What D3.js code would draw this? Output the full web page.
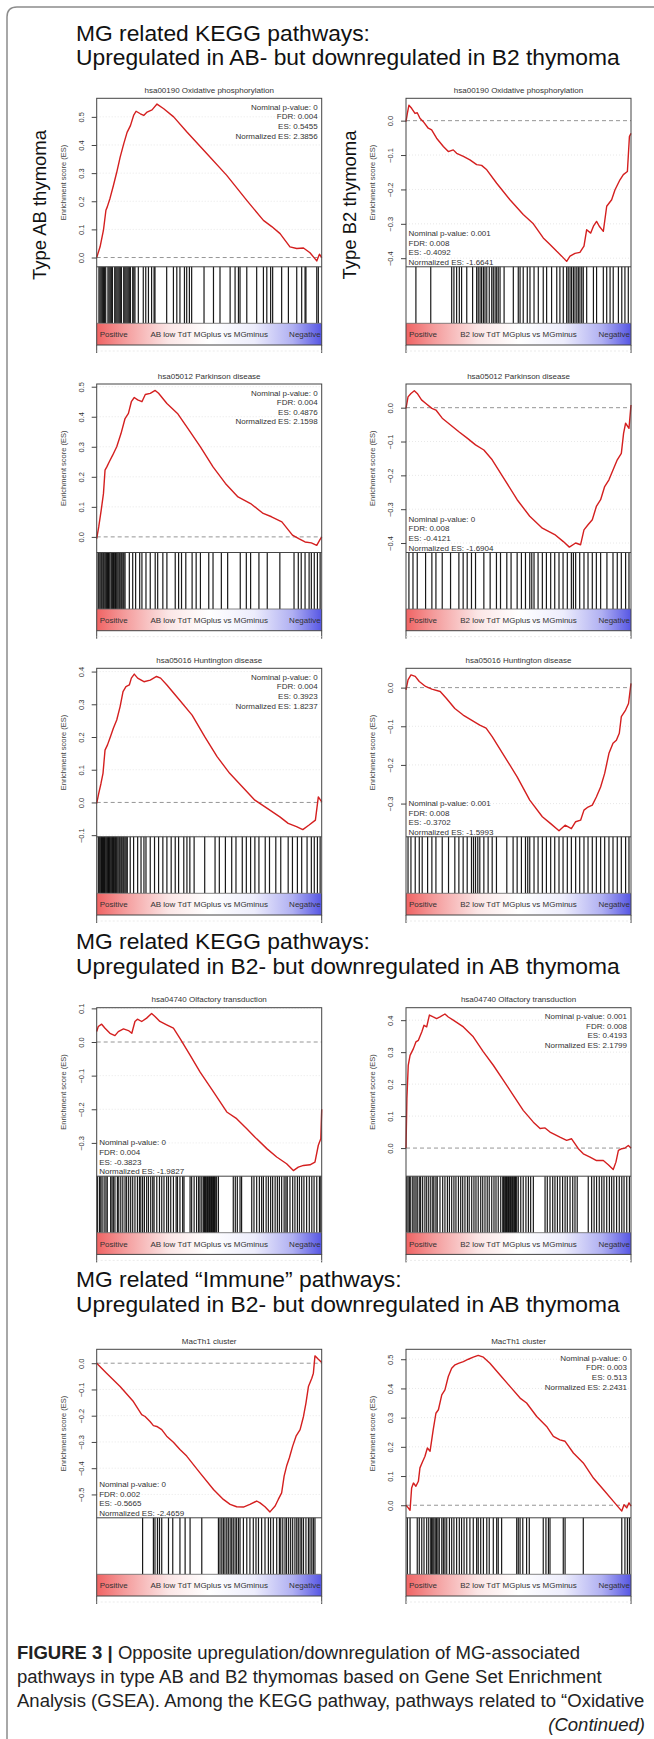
<!DOCTYPE html>
<html>
<head>
<meta charset="utf-8">
<script src="https://cdn.jsdelivr.net/npm/d3@7"></script>
<style>
body { margin: 0; background: #fff; }
svg { display: block; font-family: "Liberation Sans", Arial, Helvetica, sans-serif; }
</style>
</head>
<body>
<svg id="fig" width="654" height="1739"></svg>
<script>
// ---- data: running enrichment score, [rank % of list, ES] ----
var oxAB_curve = [[0,0],[1.5,0.038],[3,0.097],[4.1,0.168],[4.7,0.18],[5.9,0.21],[7.4,0.255],[8.9,0.303],[10.4,0.356],[12,0.404],[13.5,0.445],[15,0.469],[16.4,0.505],[17.5,0.52],[19.4,0.511],[20.9,0.505],[22.4,0.517],[24.6,0.525],[26.8,0.5455],[29.8,0.529],[34.2,0.5],[40.1,0.446],[49,0.369],[57.8,0.292],[66.7,0.203],[74.1,0.132],[77.8,0.11],[81.5,0.085],[85.9,0.038],[88.9,0.032],[91.9,0.034],[94.8,0.017],[97.8,-0.012],[99,0.012],[100,0]]
var oxB2_curve = [[0,-0.003],[0.6,0.021],[1.3,0.045],[2.5,0.036],[4,0.021],[5,0.023],[6.2,0.007],[7.7,-0.003],[9.9,-0.022],[11.4,-0.027],[13.6,-0.051],[16.6,-0.075],[18.8,-0.09],[21,-0.085],[22.5,-0.095],[25.5,-0.104],[28.4,-0.114],[31.4,-0.128],[33.6,-0.13],[35.9,-0.143],[40.3,-0.182],[46.2,-0.23],[52.1,-0.273],[56.6,-0.3],[61,-0.341],[64,-0.36],[67,-0.38],[69.2,-0.394],[71.4,-0.4092],[72.9,-0.394],[75.1,-0.386],[77.3,-0.383],[79.1,-0.365],[80.3,-0.317],[82.1,-0.327],[83.3,-0.307],[84.7,-0.293],[85.9,-0.307],[87.7,-0.322],[89.2,-0.249],[91.4,-0.23],[92.9,-0.201],[95.1,-0.172],[96.6,-0.157],[98.4,-0.148],[99.3,-0.046],[100,-0.037]]
var pdAB_curve = [[0,-0.006],[0.9,0.033],[2,0.089],[3,0.144],[3.7,0.222],[4.5,0.233],[5.6,0.25],[7.1,0.272],[8.9,0.3],[10.8,0.344],[12.6,0.394],[14.1,0.411],[15.4,0.45],[16.7,0.464],[18.2,0.456],[20.1,0.45],[21.6,0.474],[23.8,0.478],[26,0.4876],[27.5,0.478],[31.2,0.444],[35.9,0.411],[40.5,0.361],[46.1,0.3],[51.7,0.233],[57.2,0.178],[62.8,0.133],[68.4,0.111],[74,0.078],[77.7,0.067],[82.3,0.05],[87,0.006],[89.8,-0.006],[92.6,-0.017],[95.4,-0.02],[97.8,-0.028],[99.1,-0.011],[100,0]]
var pdB2_curve = [[0,-0.002],[0.9,0.032],[2.2,0.042],[3.7,0.05],[5,0.042],[6.9,0.023],[8.7,0.013],[11.5,-0.002],[13.3,-0.007],[16.1,-0.031],[19.8,-0.051],[23.5,-0.071],[27.2,-0.09],[30.9,-0.11],[34.6,-0.125],[38.3,-0.154],[43.9,-0.213],[49.4,-0.272],[55,-0.321],[60.6,-0.356],[66.1,-0.375],[69.8,-0.395],[72.6,-0.4121],[75.4,-0.4],[77.6,-0.405],[79.1,-0.361],[80.9,-0.346],[82.8,-0.331],[84.6,-0.292],[86.5,-0.272],[88.3,-0.233],[90.2,-0.213],[92,-0.184],[93.9,-0.154],[95.7,-0.135],[96.7,-0.076],[97.6,-0.046],[99.1,-0.061],[100,0.008]]
var hdAB_curve = [[0,-0.003],[0.9,0.028],[1.9,0.058],[2.8,0.089],[3.7,0.16],[4.8,0.176],[6.1,0.201],[7.4,0.227],[8.9,0.252],[10.4,0.293],[11.7,0.339],[13,0.354],[14.5,0.359],[15.4,0.38],[16.7,0.3923],[18.2,0.38],[21,0.369],[23.8,0.374],[26.6,0.385],[28.4,0.38],[31.2,0.359],[36.8,0.313],[42.4,0.267],[48,0.201],[53.5,0.14],[59.1,0.089],[64.7,0.048],[70.3,0.007],[75.8,-0.018],[81.4,-0.044],[85.1,-0.064],[88.8,-0.074],[91.6,-0.083],[94.4,-0.069],[97.2,-0.054],[98.5,0.017],[100,0.002]]
var hdB2_curve = [[0,-0.006],[0.9,0.02],[2.2,0.033],[4.1,0.029],[5.9,0.016],[8.7,0.003],[11.5,-0.004],[15.2,-0.01],[18,-0.028],[21.7,-0.054],[25.4,-0.071],[29.1,-0.084],[32.8,-0.097],[35.6,-0.105],[38.3,-0.127],[43.9,-0.179],[49.4,-0.231],[55,-0.291],[60.6,-0.334],[64.3,-0.352],[68,-0.3702],[70.7,-0.356],[73.5,-0.365],[75.4,-0.347],[77.6,-0.343],[79.1,-0.317],[80.9,-0.309],[82.8,-0.304],[84.6,-0.283],[86.5,-0.257],[88.3,-0.222],[90.2,-0.17],[92,-0.144],[93.5,-0.136],[94.8,-0.118],[95.7,-0.075],[97.6,-0.058],[98.9,-0.041],[100,0.011]]
var olAB_curve = [[0,0.031],[0.7,0.046],[2.2,0.053],[3.7,0.041],[5.9,0.026],[8.1,0.019],[9.6,0.031],[11.9,0.039],[14.1,0.034],[15.6,0.026],[17,0.061],[18.1,0.068],[20,0.061],[22.2,0.071],[24.4,0.085],[25.9,0.076],[28.1,0.061],[31.1,0.051],[34.1,0.041],[37,0.011],[41.5,-0.039],[45.9,-0.089],[51.9,-0.148],[57.8,-0.208],[62.2,-0.228],[66.7,-0.258],[71.1,-0.288],[75.6,-0.317],[80,-0.342],[84.4,-0.362],[87.4,-0.3823],[89.6,-0.372],[91.9,-0.367],[94.8,-0.365],[97,-0.357],[98.5,-0.307],[99.6,-0.288],[100,-0.2]]
var olB2_curve = [[0,0],[0.4,0.155],[1,0.259],[1.8,0.29],[3.3,0.311],[4.4,0.332],[5.5,0.337],[7,0.363],[8,0.384],[9.2,0.379],[10.4,0.416],[12.1,0.41],[13.6,0.405],[15.1,0.41],[17.3,0.4193],[18.8,0.41],[21,0.4],[25.5,0.379],[29.9,0.348],[34.4,0.301],[38.8,0.259],[43.3,0.212],[47.7,0.165],[52.1,0.118],[56.6,0.081],[59.6,0.061],[61.8,0.063],[64,0.05],[68.4,0.034],[71.4,0.024],[73.6,0.029],[76.6,-0.002],[78.8,-0.018],[81.8,-0.028],[84.7,-0.039],[87.7,-0.039],[89.9,-0.052],[92.1,-0.067],[93.3,-0.044],[94.4,-0.007],[95.9,-0.002],[97.3,0],[98.8,0.008],[100,0]]
var mtAB_curve = [[0,0],[4.4,-0.038],[10.4,-0.089],[16.3,-0.146],[20,-0.196],[21.5,-0.203],[23.7,-0.222],[25.2,-0.238],[26.7,-0.241],[28.9,-0.253],[31.1,-0.278],[34.1,-0.301],[37,-0.329],[40,-0.354],[45.9,-0.418],[51.9,-0.481],[56.3,-0.519],[59.3,-0.538],[62.2,-0.547],[65.2,-0.548],[68.1,-0.538],[71.1,-0.525],[72.6,-0.532],[74.8,-0.547],[77,-0.5665],[79.3,-0.544],[80.7,-0.519],[82.2,-0.494],[83.3,-0.43],[84.4,-0.392],[85.6,-0.361],[87.1,-0.316],[88.6,-0.278],[90.4,-0.253],[91.9,-0.203],[93,-0.152],[94.1,-0.089],[95.6,-0.057],[96.3,-0.038],[97,0.028],[98.5,0.015],[100,0.003]]
var mtB2_curve = [[0,0],[1,-0.009],[1.8,-0.017],[2.5,0.059],[3.3,0.076],[4.4,0.065],[5.5,0.082],[6.2,0.128],[7.4,0.15],[8.4,0.167],[9.5,0.196],[10.7,0.185],[12.1,0.259],[13.3,0.315],[14.4,0.327],[15.9,0.378],[17.3,0.395],[18.8,0.441],[20.3,0.469],[21.8,0.481],[23.3,0.486],[25.5,0.492],[27.7,0.5],[29.9,0.507],[32.1,0.513],[34.4,0.507],[37.3,0.486],[41.8,0.446],[46.2,0.407],[50.7,0.367],[53.6,0.35],[58.1,0.304],[62.5,0.27],[65.5,0.236],[68.4,0.224],[70.7,0.219],[74.4,0.179],[78.8,0.145],[83.3,0.093],[87.7,0.054],[92.1,0.014],[95.9,-0.02],[96.9,0.002],[98.1,-0.009],[99.1,0.008],[100,-0.003]]

// ---- data: gene set hits, rank % of list ----
var oxAB_hits = [1,1.5,2,2.5,3,3.5,4,5,5.5,6,6.5,7,8,8.5,9,9.5,10,10.5,11,12,12.5,13,13.5,14,14.5,15,16,16.5,17,18.5,20.7,21.8,23,24.4,25.5,25.9,31.1,34.1,35.6,37,39,40,41.2,42.2,47.7,51.9,54.8,59.3,61.5,63,63.7,66.7,71.1,74.1,75.6,77.3,78.2,82.2,85.2,88.9,91.1,92.6,93,97.8,98.5]
var oxB2_hits = [4.4,11,20.3,21.3,22.5,23.7,24.7,27,29.6,31.4,32.1,32.9,33.6,34.4,35.1,35.9,37,38.1,38.8,39.6,40.3,41,41.8,43.6,47.7,49.9,50.7,52.1,53.9,55.1,56.9,58.8,61,62.5,64.7,67,68.4,69.9,71.4,72.1,72.9,73.6,74.4,75.1,75.9,76.6,77.3,78.1,78.8,80.3,83.3,84.7,87.7,89.2,90.7,92.1,94.4,95.9,97.3,98.8]
var pdAB_hits = [0.6,1,1.5,2,2.4,2.9,3.3,3.8,4.3,4.8,5.2,5.6,6.3,6.7,7.1,7.5,8,8.4,8.9,9.4,9.9,10.3,10.8,11.2,11.7,12.1,12.6,14.5,16,17.3,19.1,20.1,21.9,23.8,26,27.1,29.4,31.2,34.9,36.4,37.7,39.6,42.4,44.2,46.1,49.8,51.7,55.4,58.2,63.8,66.5,68.4,72.1,75.8,81.4,87.7,89.6,90.9,92.6,94.4,95.4,96.7,98.1,99.3]
var pdB2_hits = [1.3,3.1,5,8.7,11.5,13.3,16.1,19.8,23.5,25.4,27.2,29.1,30.9,34.6,37.4,40.2,42,44.8,46.7,49.4,51.3,53.1,55,55.9,56.9,58.7,60.6,62.4,64.3,66.1,68,69.8,71.7,73.5,74.4,75.4,77.2,79.1,80.9,82.8,84.6,86.5,89.3,92,93.9,95.7,97.6,99.1]
var hdAB_hits = [0.7,1.1,1.5,1.9,2.2,2.6,3,3.4,3.7,4.1,4.5,4.9,5.2,5.6,5.9,6.3,6.7,7.1,7.4,7.8,8.2,8.5,8.9,9.4,9.9,10.3,10.8,11.2,11.7,12.1,12.6,13.1,13.6,14.9,16.4,18.2,19.7,21,21.9,23.8,25.7,27.5,29.4,31.2,33.1,34.9,36.4,38.7,40.1,41.4,43.3,48,52.6,54.5,57.2,60,61.9,64.7,66.5,68.4,70.3,72.1,74.9,76.8,79.6,81.8,85.1,87,89.2,91.1,93.5,95.4,96.7,98.1,99.3]
var hdB2_hits = [0.9,2.2,4.1,5.9,7.2,9.6,11.5,13.3,16.1,18.9,21.7,23.5,25.4,27.2,29.1,30,30.9,31.9,32.8,34.6,36.5,38.3,40.2,44.8,47.6,49.4,51.3,53.1,54.1,55,56.9,58.7,60.6,62.4,64.3,66.1,68,69.8,71.7,73.5,75.4,77.2,79.1,80.9,82.8,84.6,86.5,88.3,90.2,92,93.9,95.7,97.6,99.1]
var olAB_hits = [0.3,1.2,1.8,2.4,3.3,4.1,4.7,6.2,6.8,7.4,8.1,9.2,9.8,10.7,11.6,12.6,13.3,14.2,15.1,16,17,18.1,19,19.6,20.4,21.2,22.2,23,24,24.9,25.5,26.7,27.9,28.9,29.9,31.1,31.9,32.9,34.1,35.3,35.9,37,38.2,38.8,41.5,42.2,43.3,44.4,45.3,45.9,46.7,47.4,47.9,48.3,48.7,49.2,49.6,50.1,50.5,51,51.4,51.9,52.3,52.7,53.3,54.1,60.7,61.6,62.5,63.7,64.4,68.9,69.9,71.1,72.3,73.3,74.1,75.3,76.3,77.3,78.2,79.3,80.3,81.2,82.2,83.3,84.1,84.7,85.9,87.1,88.1,89.2,90.1,91.1,92.1,93.3,94.5,95.6,96.6,97.8,99,99.6]
var olB2_hits = [0.3,0.9,1.5,2.1,3,3.6,4.4,5,5.9,6.5,7.4,8.4,9.2,10.1,11,11.9,12.4,13.3,13.9,15.1,16.3,17.3,18.4,19.3,20.3,21.3,22.2,23.3,24.3,25.2,26.2,27.3,28.1,29.2,30.2,31.1,32.1,33.2,34.1,35.1,36.1,37,38.1,39.1,40,41,42.1,43,43.4,43.9,44.3,44.7,45.2,45.6,46.1,46.5,47,47.4,47.9,48.3,48.7,49.2,49.9,51,52.1,53.3,54.4,55.4,56.6,61.8,62.8,64,65.2,66.2,67.3,68.4,69.6,70.7,71.7,72.9,74.1,75.1,76.1,81,82.5,83.6,84.7,85.9,87,88,89.2,90.4,91.4,92.4,93.6,94.8,95.9,96.9,98.1,99.3]
var mtAB_hits = [20.4,25.2,25.9,27,27.9,28.9,31.9,33.8,37,39.3,41.5,46.7,54.1,54.8,55.6,56.3,57,57.8,58.5,59.3,60,60.7,61.5,62.2,63,63.7,65.2,66.7,68.1,69.6,70.8,71.9,73.3,74.8,76.3,77.3,78.5,80,81.2,81.8,82.7,83.7,84.4,85.3,86.2,87.1,88.1,88.9,89.6,90.4,91.1,91.9,93,94.1,94.8,95.6,96.3,97]
var mtB2_hits = [0.6,1.8,5,5.9,7,8,9.2,10.1,11,11.4,11.9,12.4,13,13.6,14.2,14.8,15.9,16.6,17.3,18.1,19.3,20.3,21.3,22.5,23.7,24.7,25.8,27,28.4,29.9,31.4,32.1,33.2,34.4,35.9,37,38.8,40.3,41,42.5,49.2,49.9,50.7,51.9,53.6,54.8,61,62.2,63.3,64,69.9,70.7,78.8,95.9,97.3,98.4,99.3]

// ---- data: plot y limits ----
var oxAB_ylim = [-0.033, 0.566], oxB2_ylim = [-0.425, 0.065]
var pdAB_ylim = [-0.052, 0.509], pdB2_ylim = [-0.428, 0.07]
var hdAB_ylim = [-0.105, 0.41],  hdB2_ylim = [-0.386, 0.05]
var olAB_ylim = [-0.399, 0.102], olB2_ylim = [-0.088, 0.439]
var mtAB_ylim = [-0.589, 0.053], mtB2_ylim = [-0.043, 0.534]

// ---- data: statistics [nominal p, FDR, ES, NES] ----
var oxAB_stats = ['0', '0.004', '0.5455', '2.3856'],   oxB2_stats = ['0.001', '0.008', '-0.4092', '-1.6641']
var pdAB_stats = ['0', '0.004', '0.4876', '2.1598'],   pdB2_stats = ['0', '0.008', '-0.4121', '-1.6904']
var hdAB_stats = ['0', '0.004', '0.3923', '1.8237'],   hdB2_stats = ['0.001', '0.008', '-0.3702', '-1.5993']
var olAB_stats = ['0', '0.004', '-0.3823', '-1.9827'], olB2_stats = ['0.001', '0.008', '0.4193', '2.1799']
var mtAB_stats = ['0', '0.002', '-0.5665', '-2.4659'], mtB2_stats = ['0', '0.003', '0.513', '2.2431']

var setTitles = ['hsa00190 Oxidative phosphorylation', 'hsa05012 Parkinson disease',
                 'hsa05016 Huntington disease', 'hsa04740 Olfactory transduction', 'MacTh1 cluster']
var phenoLabels = ['AB low TdT MGplus vs MGminus', 'B2 low TdT MGplus vs MGminus']
var headings = [
    ['MG related KEGG pathways:', 'Upregulated in AB- but downregulated in B2 thymoma'],
    ['MG related KEGG pathways:', 'Upregulated in B2- but downregulated in AB thymoma'],
    ['MG related \u201cImmune\u201d pathways:', 'Upregulated in B2- but downregulated in AB thymoma']
]
var rowLabels = ['Type AB thymoma', 'Type B2 thymoma']
var captionLines = [
    'pathways in type AB and B2 thymomas based on Gene Set Enrichment',
    'Analysis (GSEA). Among the KEGG pathway, pathways related to \u201cOxidative'
]

// ---- layout ----
var rowTop = [98.3, 384, 668.3, 1007.7, 1349.3]
var colX = [96.7, 406]
var boxW = 225, esH = 168.5, hitsH = 56.5, gradH = 21.7, extH = 8
var headingY = [[41, 65], [949, 974], [1287, 1312]]

var panels = [
    { row:0, col:0, title:setTitles[0], curve:oxAB_curve, hits:oxAB_hits, ylim:oxAB_ylim, stats:oxAB_stats },
    { row:0, col:1, title:setTitles[0], curve:oxB2_curve, hits:oxB2_hits, ylim:oxB2_ylim, stats:oxB2_stats },
    { row:1, col:0, title:setTitles[1], curve:pdAB_curve, hits:pdAB_hits, ylim:pdAB_ylim, stats:pdAB_stats },
    { row:1, col:1, title:setTitles[1], curve:pdB2_curve, hits:pdB2_hits, ylim:pdB2_ylim, stats:pdB2_stats },
    { row:2, col:0, title:setTitles[2], curve:hdAB_curve, hits:hdAB_hits, ylim:hdAB_ylim, stats:hdAB_stats },
    { row:2, col:1, title:setTitles[2], curve:hdB2_curve, hits:hdB2_hits, ylim:hdB2_ylim, stats:hdB2_stats },
    { row:3, col:0, title:setTitles[3], curve:olAB_curve, hits:olAB_hits, ylim:olAB_ylim, stats:olAB_stats },
    { row:3, col:1, title:setTitles[3], curve:olB2_curve, hits:olB2_hits, ylim:olB2_ylim, stats:olB2_stats },
    { row:4, col:0, title:setTitles[4], curve:mtAB_curve, hits:mtAB_hits, ylim:mtAB_ylim, stats:mtAB_stats },
    { row:4, col:1, title:setTitles[4], curve:mtB2_curve, hits:mtB2_hits, ylim:mtB2_ylim, stats:mtB2_stats }
]

var svg = d3.select('#fig')

// phenotype gradient (red -> white -> blue)
var grad = svg.append('defs').append('linearGradient').attr('id', 'pheno')
var stops = [[0, '#f06464'], [0.12, '#f49a9a'], [0.32, '#fbe6e6'], [0.5, '#ffffff'],
             [0.7, '#ededfc'], [0.87, '#b0b0f2'], [1, '#5656e4']]
grad.selectAll('stop').data(stops).enter().append('stop')
    .attr('offset', function(d) { return d[0] })
    .attr('stop-color', function(d) { return d[1] })

// figure frame: left and top edges, rounded corner
svg.append('path').attr('d', 'M7,1739 V17 Q7,7 17,7 H654')
    .attr('fill', 'none').attr('stroke', '#8c8c8c').attr('stroke-width', 1.5)

function drawPanel(p) {
    var x0 = colX[p.col], top = rowTop[p.row]
    var esB = top + esH, hitB = esB + hitsH, grB = hitB + gradH
    var x = d3.scaleLinear().domain([0, 100]).range([x0, x0 + boxW])
    var y = d3.scaleLinear().domain(p.ylim).range([esB, top])
    var ticks = d3.range(Math.ceil(p.ylim[0] * 10 - 1e-9), Math.floor(p.ylim[1] * 10 + 1e-9) + 1)
        .map(function(k) { return k / 10 })
    var es = +p.stats[2]
    var g = svg.append('g')

    g.append('text').attr('x', x0 + boxW / 2).attr('y', top - 5.5)
        .attr('text-anchor', 'middle').attr('font-size', 8).attr('fill', '#333').text(p.title)

    // faint grid and dashed zero line
    g.selectAll('line.grid').data(ticks.filter(function(t) { return t !== 0 })).enter()
        .append('line').attr('class', 'grid')
        .attr('x1', x0).attr('x2', x0 + boxW)
        .attr('y1', function(t) { return y(t) }).attr('y2', function(t) { return y(t) })
        .attr('stroke', '#e2e2e2').attr('stroke-width', 0.8).attr('stroke-dasharray', '1,2')
    g.append('line').attr('x1', x0).attr('x2', x0 + boxW).attr('y1', y(0)).attr('y2', y(0))
        .attr('stroke', '#8a8a8a').attr('stroke-width', 0.9).attr('stroke-dasharray', '4,3')

    g.append('path').datum(p.curve)
        .attr('d', d3.line().x(function(d) { return x(d[0]) }).y(function(d) { return y(d[1]) }))
        .attr('fill', 'none').attr('stroke', '#d41f1f').attr('stroke-width', 1.4)
        .attr('stroke-linejoin', 'round')

    // hits
    g.selectAll('line.hit').data(p.hits).enter().append('line').attr('class', 'hit')
        .attr('x1', function(h) { return x(h) }).attr('x2', function(h) { return x(h) })
        .attr('y1', esB).attr('y2', hitB)
        .attr('stroke', '#000').attr('stroke-width', 1.2).attr('stroke-opacity', 0.9)

    // phenotype bar
    g.append('rect').attr('x', x0).attr('y', hitB).attr('width', boxW).attr('height', gradH)
        .attr('fill', 'url(#pheno)')
    var ly = hitB + gradH / 2 + 3
    g.append('text').attr('x', x0 + 3).attr('y', ly).attr('font-size', 8).attr('fill', '#333').text('Positive')
    g.append('text').attr('x', x0 + boxW / 2).attr('y', ly).attr('text-anchor', 'middle')
        .attr('font-size', 8).attr('fill', '#333').text(phenoLabels[p.col])
    g.append('text').attr('x', x0 + boxW - 1).attr('y', ly).attr('text-anchor', 'end')
        .attr('font-size', 8).attr('fill', '#333').text('Negative')

    // frame
    g.append('rect').attr('x', x0).attr('y', top).attr('width', boxW).attr('height', grB - top)
        .attr('fill', 'none').attr('stroke', '#444').attr('stroke-width', 1)
    g.append('line').attr('x1', x0).attr('x2', x0 + boxW).attr('y1', esB).attr('y2', esB)
        .attr('stroke', '#444').attr('stroke-width', 1)
    g.append('line').attr('x1', x0).attr('x2', x0 + boxW).attr('y1', hitB).attr('y2', hitB)
        .attr('stroke', '#666').attr('stroke-width', 0.8)
    ;[x0, x0 + boxW].forEach(function(xx) {
        g.append('line').attr('x1', xx).attr('x2', xx).attr('y1', grB).attr('y2', grB + extH)
            .attr('stroke', '#444').attr('stroke-width', 1)
    })
    g.append('line').attr('x1', x0).attr('x2', x0 + boxW).attr('y1', grB + 6).attr('y2', grB + 6)
        .attr('stroke', '#e6e6e6').attr('stroke-width', 0.8).attr('stroke-dasharray', '2,2')

    // y axis
    var ax = g.append('g').attr('transform', 'translate(' + x0 + ',0)')
        .call(d3.axisLeft(y).tickValues(ticks).tickSize(5).tickFormat(d3.format('.1f')))
    ax.attr('font-family', null).attr('font-size', null)
    ax.select('.domain').remove()
    ax.selectAll('line').attr('stroke', '#444')
    ax.selectAll('text').attr('transform', 'rotate(-90)').attr('x', 0).attr('y', -13).attr('dy', null)
        .attr('text-anchor', 'middle').attr('font-size', 7.5).attr('fill', '#333')
    g.append('text').attr('transform', 'translate(' + (x0 - 31) + ',' + (top + esH / 2) + ') rotate(-90)')
        .attr('text-anchor', 'middle').attr('font-size', 7.5).attr('fill', '#444')
        .text('Enrichment score (ES)')

    // statistics
    var lines = ['Nominal p-value: ' + p.stats[0], 'FDR: ' + p.stats[1],
                 'ES: ' + p.stats[2], 'Normalized ES: ' + p.stats[3]]
    var st = g.append('g').attr('font-size', 8).attr('fill', '#333')
    lines.forEach(function(s, i) {
        if (es > 0)
            st.append('text').attr('x', x0 + boxW - 4).attr('y', top + 11.5 + i * 9.6)
                .attr('text-anchor', 'end').text(s)
        else
            st.append('text').attr('x', x0 + 2.5).attr('y', esB - 2 - (3 - i) * 9.6).text(s)
    })
}

panels.forEach(drawPanel)

// section headings
headings.forEach(function(h, i) {
    h.forEach(function(s, j) {
        svg.append('text').attr('x', 76).attr('y', headingY[i][j])
            .attr('font-size', 22.8).attr('fill', '#111').text(s)
    })
})

// row labels
svg.append('text').attr('transform', 'translate(46,205) rotate(-90)').attr('text-anchor', 'middle')
    .attr('font-size', 18.5).attr('fill', '#111').text(rowLabels[0])
svg.append('text').attr('transform', 'translate(356,205) rotate(-90)').attr('text-anchor', 'middle')
    .attr('font-size', 18.5).attr('fill', '#111').text(rowLabels[1])

// caption
var cap = svg.append('g').attr('fill', '#222')
var c1 = cap.append('text').attr('x', 17).attr('y', 1659)
c1.append('tspan').attr('font-weight', 'bold').text('FIGURE 3 | ')
c1.append('tspan').text('Opposite upregulation/downregulation of MG-associated')
var c2 = cap.append('text').attr('x', 17).attr('y', 1683).text(captionLines[0])
var c3 = cap.append('text').attr('x', 17).attr('y', 1707).text(captionLines[1])
cap.selectAll('text').attr('font-size', 20)
var fs = 20 * 628 / c3.node().getComputedTextLength()
cap.selectAll('text').attr('font-size', fs)
cap.append('text').attr('x', 645).attr('y', 1731).attr('text-anchor', 'end')
    .attr('font-style', 'italic').attr('font-size', fs).text('(Continued)')
</script>
</body>
</html>
